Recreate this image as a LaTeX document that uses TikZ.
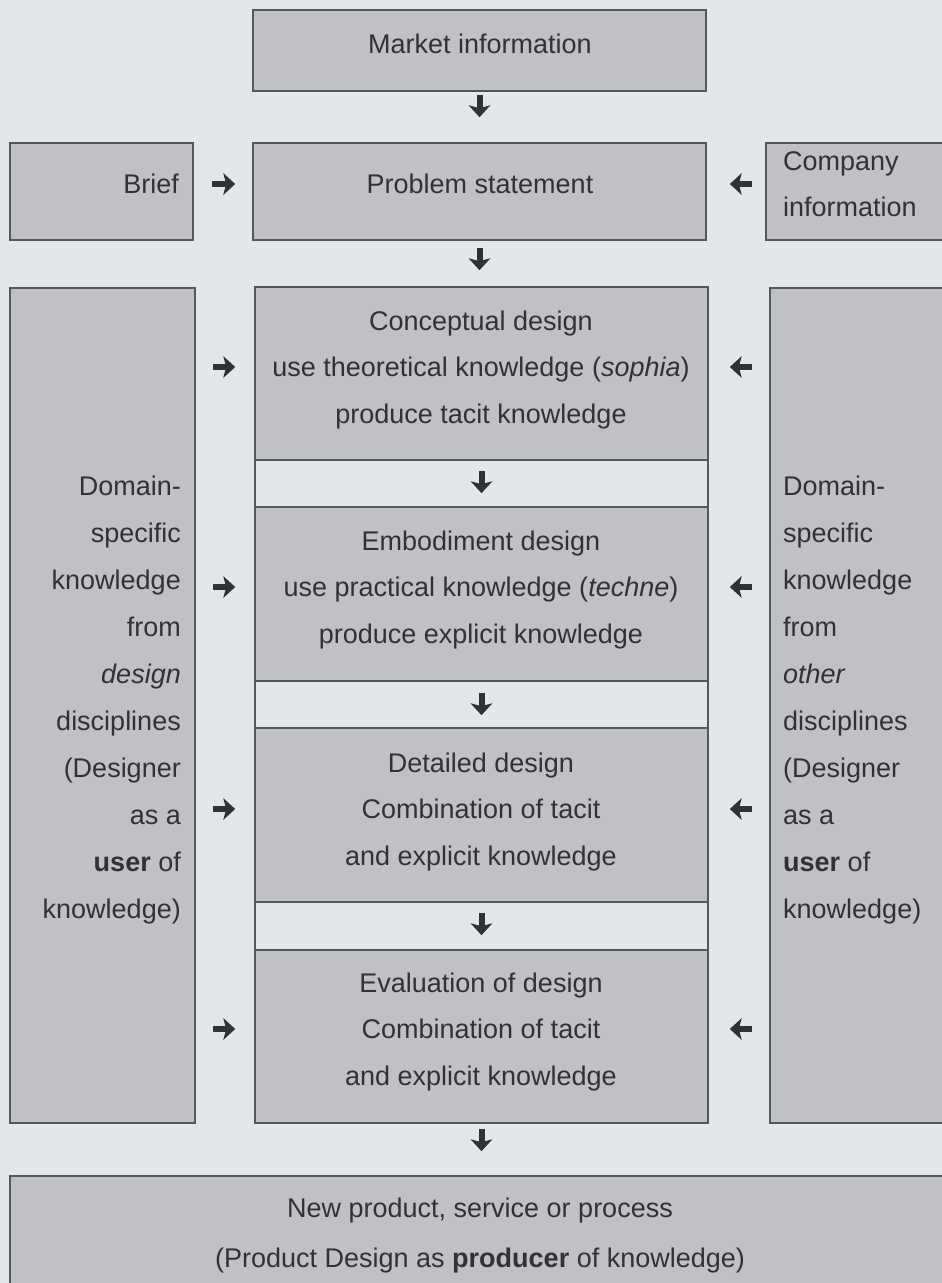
\documentclass[tikz,border=0pt]{standalone}
\usepackage{fontspec}
\setmainfont{Liberation Sans}
\usetikzlibrary{arrows.meta,calc,fit}
\definecolor{paper}{HTML}{E3E6EB}
\definecolor{boxfill}{HTML}{BFC1C6}
\definecolor{boxline}{HTML}{55575D}
\definecolor{ink}{HTML}{313236}
\tikzset{
  box/.style={draw=boxline, fill=boxfill, line width=1.6pt, inner sep=0pt},
  lbl/.style={text=ink, font=\fontsize{27}{46.5}\selectfont, inner sep=0pt},
  arr/.style={draw=ink, line width=6pt,
    -{Stealth[length=12pt,width=22pt,inset=3pt,line width=0pt]}},
}
% box from its top-left to its bottom-right corner
\newcommand\mkpanel[5]{\node[box, fit={(#2,#3) (#4,#5)}] (#1) {};}
\begin{document}
\begin{tikzpicture}[x=1pt,y=-1pt]
\fill[paper] (0,0) rectangle (942,1283);
\clip (0,0) rectangle (942,1283);

% top row
\mkpanel{market}{253}{10}{706}{91}
\mkpanel{brief}{10}{143}{193}{240}
\mkpanel{problem}{253}{143}{706}{240}
\mkpanel{company}{766}{143}{960}{240}

% side columns
\mkpanel{leftcol}{10}{288}{195}{1123}
\mkpanel{rightcol}{770}{288}{960}{1123}

% design stages
\mkpanel{concept}{255}{287}{708}{460}
\mkpanel{embod}{255}{507}{708}{681}
\mkpanel{detail}{255}{728}{708}{902}
\mkpanel{evalu}{255}{950}{708}{1123}
\node[draw=boxline, line width=1.6pt, inner sep=0pt, fit={(255,287) (708,1123)}] (stages) {};

% result
\mkpanel{result}{10}{1176}{960}{1320}

% texts
\node[lbl] (tmarket) at (480,44) {Market information};
\node[lbl, anchor=east] (tbrief) at (179,184) {Brief};
\node[lbl] (tproblem) at (480,184) {Problem statement};
\node[lbl, anchor=west, align=left] (tcompany) at (783,184) {Company\\information};

\node[lbl, align=center] (tconcept) at (481,370)
  {Conceptual design\\use theoretical knowledge (\textit{sophia})\\produce tacit knowledge};
\node[lbl, align=center] (tembod) at (481,590)
  {Embodiment design\\use practical knowledge (\textit{techne})\\produce explicit knowledge};
\node[lbl, align=center] (tdetail) at (481,812)
  {Detailed design\\Combination of tacit\\and explicit knowledge};
\node[lbl, align=center] (tevalu) at (481,1032)
  {Evaluation of design\\Combination of tacit\\and explicit knowledge};

\node[lbl, font=\fontsize{27}{46.9}\selectfont, anchor=east, align=right] (tleft) at (181,700)
  {Domain-\\specific\\knowledge\\from\\\textit{design}\\disciplines\\(Designer\\as a\\\textbf{user} of\\knowledge)};
\node[lbl, font=\fontsize{27}{46.9}\selectfont, anchor=west, align=left] (tright) at (783,700)
  {Domain-\\specific\\knowledge\\from\\\textit{other}\\disciplines\\(Designer\\as a\\\textbf{user} of\\knowledge)};

\node[lbl, font=\fontsize{27}{50}\selectfont, align=center] (tresult) at (480,1236)
  {New product, service or process\\(Product Design as \textbf{producer} of knowledge)};

% downward flow
\draw[arr, shorten <=3pt, shorten >=25pt] (market) -- (problem);
\draw[arr, shorten <=7pt, shorten >=16pt] (problem.south) -- (problem.south |- concept.north);
\draw[arr, shorten <=10pt, shorten >=13pt] (concept) -- (embod);
\draw[arr, shorten <=11pt, shorten >=12pt] (embod) -- (detail);
\draw[arr, shorten <=10pt, shorten >=14pt] (detail) -- (evalu);
\draw[arr, shorten <=5pt, shorten >=24pt] (evalu.south) -- (evalu.south |- result.north);

% inputs from the sides
\draw[arr] ($(brief.east |- tbrief.center)+(18,0)$) -- ($(problem.west |- tbrief.center)+(-17,0)$);
\draw[arr] ($(company.west |- tproblem.center)+(-13,0)$) -- ($(problem.east |- tproblem.center)+(23,0)$);
\foreach \s in {concept,embod,detail,evalu}{
  \draw[arr] ($(leftcol.east |- t\s.center)+(17,-3)$) -- ($(\s.west |- t\s.center)+(-19,-3)$);
  \draw[arr] ($(rightcol.west |- t\s.center)+(-17,-3)$) -- ($(\s.east |- t\s.center)+(21,-3)$);
}
\end{tikzpicture}
\end{document}
